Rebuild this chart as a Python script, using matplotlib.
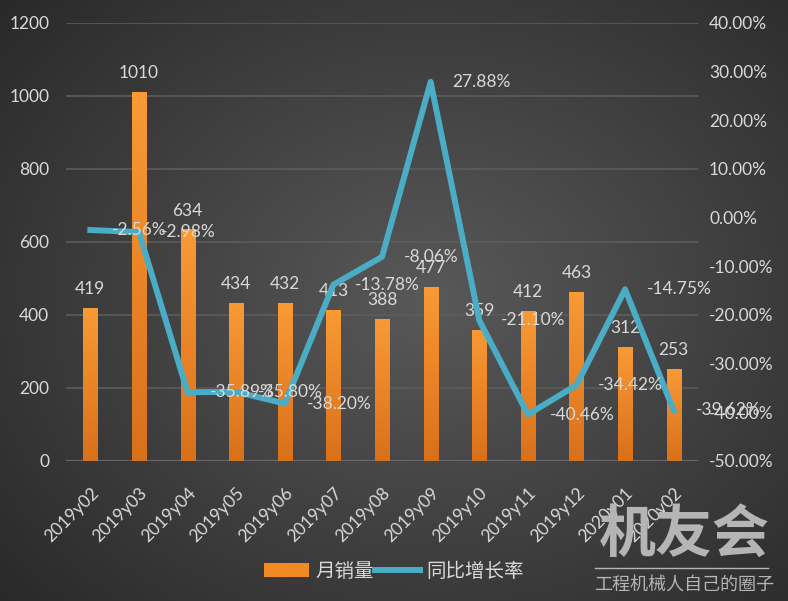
import matplotlib.pyplot as plt
import numpy as np
from matplotlib.colors import LinearSegmentedColormap
from matplotlib.patches import Patch
from matplotlib.lines import Line2D

plt.rcParams['font.family'] = ['Lato', 'Noto Sans CJK SC', 'DejaVu Sans']

months = ['2019y02', '2019y03', '2019y04', '2019y05', '2019y06', '2019y07', '2019y08',
          '2019y09', '2019y10', '2019y11', '2019y12', '2020y01', '2020y02']
sales = [419, 1010, 634, 434, 432, 413, 388, 477, 359, 412, 463, 312, 253]
growth = [-2.56, -2.98, -35.89, -35.80, -38.20, -13.78, -8.06, 27.88, -21.10, -40.46, -34.42, -14.75, -39.62]

txt = '#d9d9d9'
orange = '#f28a24'
blue = '#4aacc5'

fig = plt.figure(figsize=(7.88, 6.01), dpi=100)

# radial background
bg = fig.add_axes([0, 0, 1, 1], zorder=-10)
yy, xx = np.mgrid[0:601, 0:788]
r = np.sqrt(((xx - 430) / 520.0) ** 2 + ((yy - 300) / 420.0) ** 2)
shade = np.clip(0.35 - 0.17 * r, 0.13, 0.35)
bg.imshow(shade, cmap='gray', vmin=0, vmax=1, aspect='auto', extent=[0, 1, 0, 1])
bg.axis('off')

ax = fig.add_axes([0.0838, 0.233, 0.802, 0.729])
ax.patch.set_alpha(0)
x = np.arange(len(months))
bars = ax.bar(x, sales, 0.29, color=orange, zorder=2)

# vertical gradient on bars
grad = np.linspace(0, 1, 100).reshape(-1, 1)
cm = LinearSegmentedColormap.from_list('o', ['#d9701a', '#f99a35'])
for b in bars:
    im = ax.imshow(grad, cmap=cm, aspect='auto', origin='lower', zorder=2.1,
                   extent=[b.get_x(), b.get_x() + b.get_width(), 0, b.get_height()])
    im.set_clip_path(b)

ax.set_xlim(-0.5, len(months) - 0.5)
ax.set_ylim(0, 1200)
ax.set_yticks(range(0, 1201, 200))
ax.grid(axis='y', color='#5c5c5c', linewidth=1.2, zorder=0)
ax.axhline(0, color='#a6a6a6', linewidth=1.5, zorder=1)
for s in ax.spines.values():
    s.set_visible(False)
ax.tick_params(length=0, colors=txt, labelsize=12.5)
ax.tick_params(axis='y', pad=12)
ax.set_xticks(x)
ax.set_xticklabels(months, rotation=45, ha='right', rotation_mode='anchor')
ax.tick_params(axis='x', pad=17)

for xi, v in zip(x, sales):
    ax.text(xi, v + 30, str(v), ha='center', va='bottom', color=txt, fontsize=12.5, zorder=5)

ax2 = ax.twinx()
ax2.set_ylim(-50, 40)
ax2.set_yticks(range(-50, 41, 10))
ax2.set_yticklabels(['%.2f%%' % t for t in range(-50, 41, 10)])
for s in ax2.spines.values():
    s.set_visible(False)
ax2.tick_params(length=0, colors=txt, labelsize=12.5, pad=8)
ax2.plot(x, growth, color=blue, linewidth=4.3, solid_joinstyle='round', zorder=3)
for xi, g in zip(x, growth):
    ax2.text(xi + 0.45, g, '%.2f%%' % g, ha='left', va='center', color=txt, fontsize=12.5, zorder=5)

# legend
handles = [Patch(facecolor=orange), Line2D([0], [0], color=blue, linewidth=4.3)]
fig.legend(handles, ['月销量', '同比增长率'], loc='center', bbox_to_anchor=(0.5, 0.05),
           ncol=2, frameon=False, fontsize=14, labelcolor=txt,
           handlelength=2.3, handletextpad=0.3, columnspacing=0.1)

# watermark
fig.text(0.868, 0.062, '机友会', ha='center', va='bottom', fontsize=41, fontweight='bold',
         color='#b5b5b5', family=['Noto Sans CJK SC'])
fig.add_artist(Line2D([0.755, 0.975], [0.055, 0.055], color='#b5b5b5', linewidth=1,
                      transform=fig.transFigure))
fig.text(0.868, 0.012, '工程机械人自己的圈子', ha='center', va='bottom', fontsize=13,
         color='#b5b5b5', family=['Noto Sans CJK SC'])

fig.savefig('out.png', dpi=100)
